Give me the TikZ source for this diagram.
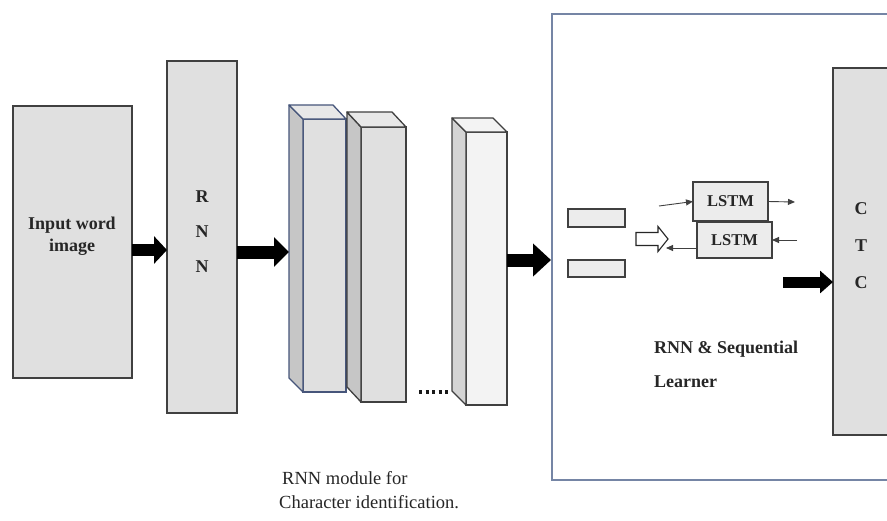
\documentclass[tikz,border=0pt]{standalone}
\usepackage{fontspec}
\setmainfont{Liberation Serif}
\usetikzlibrary{arrows.meta,calc}
\definecolor{bd}{HTML}{404040}
\definecolor{bl}{HTML}{46557A}
\definecolor{bb}{HTML}{7585A5}
\definecolor{bx}{HTML}{E0E0E0}
\definecolor{lt}{HTML}{ECECEC}
\definecolor{cs}{HTML}{C6C6C6}
\definecolor{ct}{HTML}{E8E8E8}
\definecolor{cf3}{HTML}{F3F3F3}
\definecolor{cs3}{HTML}{D4D4D4}
\begin{document}
\begin{tikzpicture}[x=1pt,y=-1pt,
  box/.style={draw=bd, line width=1.3pt, fill=bx, inner sep=0pt, outer sep=0pt},
  face/.style={draw=bd, line width=1.3pt, line join=round},
  lab/.style={font=\fontsize{18}{22}\selectfont\bfseries, align=center, inner sep=0pt, text=black!85},
  thinarr/.style={draw=black!75, line width=0.9pt, -{Triangle[length=7pt,width=6pt]}}
]
\fill[white] (0,0) rectangle (887,520);
\useasboundingbox (0,0) rectangle (887,520);
\clip (0,0) rectangle (887,520);

% input
\node[box, anchor=north west, minimum width=119pt, minimum height=272pt] (inp) at (13,106) {};
\node[lab] (inpl) at (72,236) {Input word\\image};

% RNN
\node[box, anchor=north west, minimum width=70pt, minimum height=352pt] (rnn) at (167,61) {};
\node[lab, font=\fontsize{18}{35}\selectfont\bfseries] (rnnl) at (202,232) {R\\N\\N};

% cube 1
\node[box, draw=bl, anchor=north west, minimum width=43pt, minimum height=273pt] (c1) at (303,119) {};
\coordinate (c1tl) at ([shift={(-14pt,14pt)}]c1.north west);
\coordinate (c1tr) at ([shift={(-13pt,14pt)}]c1.north east);
\coordinate (c1bl) at ([shift={(-14pt,14pt)}]c1.south west);
\filldraw[face, draw=bl, fill=cs] (c1.north west) -- (c1tl) -- (c1bl) -- (c1.south west) -- cycle;
\filldraw[face, draw=bl, fill=ct] (c1.north west) -- (c1tl) -- (c1tr) -- (c1.north east) -- cycle;

% cube 2
\node[box, anchor=north west, minimum width=45pt, minimum height=275pt] (c2) at (361,127) {};
\coordinate (c2tl) at ([shift={(-14pt,15pt)}]c2.north west);
\coordinate (c2tr) at ([shift={(-14pt,15pt)}]c2.north east);
\coordinate (c2bl) at ([shift={(-14pt,15pt)}]c2.south west);
\filldraw[face, fill=cs] (c2.north west) -- (c2tl) -- (c2bl) -- (c2.south west) -- cycle;
\filldraw[face, fill=ct] (c2.north west) -- (c2tl) -- (c2tr) -- (c2.north east) -- cycle;

% cube 3
\node[box, fill=cf3, anchor=north west, minimum width=41pt, minimum height=273pt] (c3) at (466,132) {};
\coordinate (c3tl) at ([shift={(-14pt,14pt)}]c3.north west);
\coordinate (c3tr) at ([shift={(-14pt,14pt)}]c3.north east);
\coordinate (c3bl) at ([shift={(-14pt,14pt)}]c3.south west);
\filldraw[face, fill=cs3] (c3.north west) -- (c3tl) -- (c3bl) -- (c3.south west) -- cycle;
\filldraw[face, fill=cf3] (c3.north west) -- (c3tl) -- (c3tr) -- (c3.north east) -- cycle;

% dots
\coordinate (d1) at (419,392);
\coordinate (d2) at (451,392);
\draw[line width=3.4pt, dash pattern=on 3.2pt off 3.3pt, black!90] (d1) -- (d2);

% big box
\node[draw=bb, line width=1.5pt, anchor=north west, minimum width=349pt, minimum height=466pt, inner sep=0pt] (big) at (551,13) {};

% small rects
\node[box, fill=lt, anchor=north west, minimum width=57pt, minimum height=18pt] (r1) at (568,209) {};
\node[box, fill=lt, anchor=north west, minimum width=57pt, minimum height=17pt] (r2) at (568,260) {};

% hollow arrow
\coordinate (ha) at (652,239);
\filldraw[draw=black!85, fill=white, line width=1.1pt, line join=miter]
  ([shift={(-16pt,6.5pt)}]ha) -- ([shift={(6pt,6.5pt)}]ha) -- ([shift={(6pt,12.5pt)}]ha)
  -- ([shift={(16pt,0pt)}]ha) -- ([shift={(6pt,-12.5pt)}]ha) -- ([shift={(6pt,-6.5pt)}]ha)
  -- ([shift={(-16pt,-6.5pt)}]ha) -- cycle;

% LSTM
\node[box, fill=lt, anchor=north west, minimum width=75pt, minimum height=39pt,
      font=\fontsize{16.5}{18}\selectfont\bfseries, text=black!85] (l1) at (693,182) {LSTM};
\node[box, fill=lt, anchor=north west, minimum width=75pt, minimum height=36pt,
      font=\fontsize{16.5}{18}\selectfont\bfseries, text=black!85] (l2) at (697,222) {LSTM};

\coordinate (l1in) at (659,206);
\coordinate (l1out) at (795,202);
\coordinate (l2in) at (797,240);
\coordinate (l2out) at (666,248);
\draw[thinarr] (l1in) -- (l1.west);
\draw[thinarr] (l1.east) -- (l1out);
\draw[thinarr] (l2in) -- (l2.east);
\draw[thinarr] ([yshift=-8pt]l2.west) -- (l2out);

% CTC
\node[box, fill=bx, anchor=north west, minimum width=70pt, minimum height=367pt] (ctc) at (833,68) {};
\node[lab, font=\fontsize{18}{37}\selectfont\bfseries] (ctcl) at (861,246) {C\\T\\C};

% fat arrows
\draw[line width=12pt, -{Triangle[length=13pt,width=27pt]}] ([yshift=-8pt]inp.east) coordinate (a1) -- (a1 -| rnn.west);
\draw[line width=13pt, -{Triangle[length=15pt,width=29pt]}] ([yshift=-15pt]rnn.east) coordinate (a2) -- (a2 -| c1bl);
\draw[line width=13pt, -{Triangle[length=18pt,width=32pt]}] ([yshift=8.5pt]c3.east) coordinate (a3) -- (a3 -| big.west);
\coordinate (a4) at (783,282);
\draw[line width=11pt, -{Triangle[length=13pt,width=22pt]}] (a4) -- (a4 -| ctc.west);

% texts
\node[lab, align=left, anchor=west, font=\fontsize{18}{34}\selectfont\bfseries] (seq) at (654,364) {RNN \& Sequential\\Learner};
\node[align=left, anchor=west, inner sep=0pt, text=black!85, font=\fontsize{18.5}{24}\selectfont] (cap) at (279,490) {\hspace*{3pt}RNN module for\\Character identification.};
\end{tikzpicture}
\end{document}
